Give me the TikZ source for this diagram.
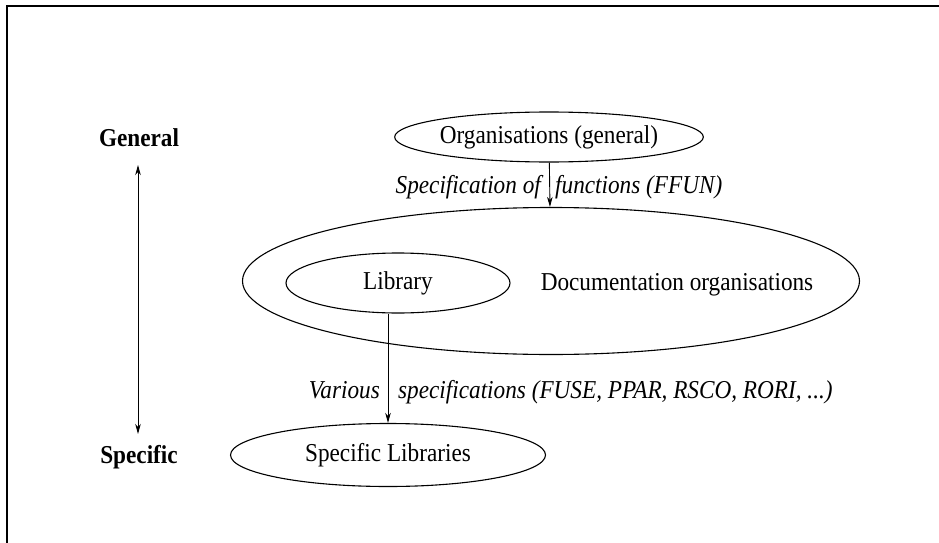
\documentclass[tikz,border=0pt]{standalone}
\usepackage{fontspec}
\usepackage{graphicx}
\setmainfont{Liberation Serif}
\usetikzlibrary{shapes.geometric,arrows.meta}

% the labels are set slightly tall
\newcommand\tallt[1]{\scalebox{1.01}[1.12]{#1}}

\tikzset{
  oval/.style={draw, ellipse, line width=1.1pt, inner sep=0pt},
  lbl/.style={inner sep=0pt, font=\fontsize{23}{27}\selectfont},
  lvl/.style={inner sep=0pt, font=\fontsize{23}{27}\selectfont\bfseries},
  spec/.style={inner sep=0pt, font=\fontsize{23}{27}\selectfont\itshape},
  flow/.style={line width=0.9pt, -{Stealth[length=10pt,width=5.5pt,inset=3pt]}},
  updown/.style={line width=0.9pt, {Stealth[length=10pt,width=5.5pt,inset=3pt]}-{Stealth[length=10pt,width=5.5pt,inset=3pt]}},
}

\begin{document}
\begin{tikzpicture}[x=1pt, y=-1pt]
  \useasboundingbox (0,0) rectangle (939,543);

  % page frame (left and top edges)
  \draw[line width=2pt] (6.5,543) -- (6.5,6.5) -- (939,6.5);

  % level scale on the left
  \node[lvl] (general)  at (139,138) {\tallt{General}};
  \node[lvl] (specific) at (139,457) {\tallt{Specific}};
  \coordinate (scaletop) at (138,165);
  \coordinate (scalebot) at (138,434);
  \draw[updown] (scaletop) -- (scalebot);

  % organisations
  \node[oval, lbl, minimum width=288pt, minimum height=50pt] (org) at (549,137) {\tallt{Organisations (general)}};
  \node[oval, minimum width=617pt, minimum height=147pt] (doc) at (551,281) {};
  \node[lbl, anchor=base] (doctext) at (677,290) {\tallt{Documentation organisations}};
  \node[oval, lbl, minimum width=224pt, minimum height=60pt] (lib) at (398,283) {\tallt{Library}};
  \node[oval, lbl, minimum width=315pt, minimum height=63pt] (speclib) at (388,455) {\tallt{Specific Libraries}};

  % connectors
  \draw[flow] (org) -- (doc);
  \draw[flow] (lib.south -| speclib.north) -- (speclib.north);

  % connector labels
  \node[spec, anchor=base east] (ffunl) at (541,193) {\tallt{Specification of}};
  \node[spec, anchor=base west] (ffunr) at (555,193) {\tallt{functions (FFUN)}};
  \node[spec, anchor=base east] (varl) at (380,398) {\tallt{Various}};
  \node[spec, anchor=base west] (varr) at (398,398) {\tallt{specifications (FUSE, PPAR, RSCO, RORI, ...)}};
\end{tikzpicture}
\end{document}
